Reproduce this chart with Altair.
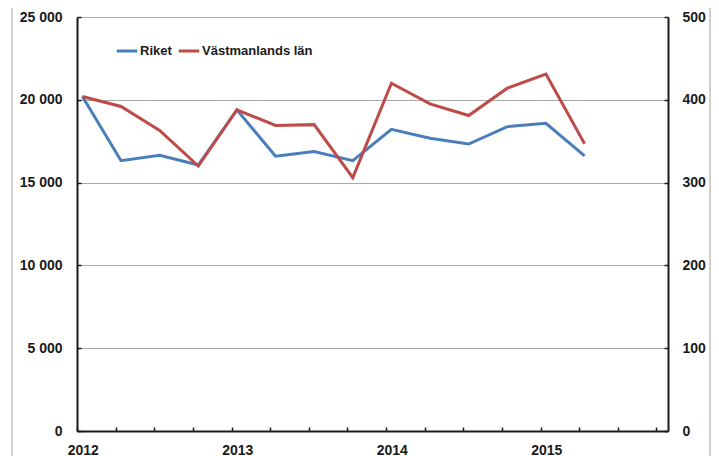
import altair as alt
import pandas as pd

quarters = ["2012K1", "2012K2", "2012K3", "2012K4", "2013K1", "2013K2", "2013K3",
            "2013K4", "2014K1", "2014K2", "2014K3", "2014K4", "2015K1", "2015K2"]
riket = [20200, 16320, 16650, 16060, 19390, 16590, 16870, 16320, 18220, 17680,
         17330, 18380, 18580, 16610]
vastmanland = [404, 392, 363, 320, 388, 369, 370, 306, 420, 395, 381, 414, 431, 347]
series_names = ["Riket", "Västmanlands län"]
colors = ["#4a7ebb", "#be4b48"]
year_labels = ["2012", "2013", "2014", "2015"]
left_ticks = [0, 5000, 10000, 15000, 20000, 25000]
right_ticks = [0, 100, 200, 300, 400, 500]

rows = []
for i, q in enumerate(quarters):
    rows.append({"t": i + 0.14, "q": q, "series": series_names[0], "value": riket[i]})
    rows.append({"t": i + 0.14, "q": q, "series": series_names[1], "value": vastmanland[i]})
df = pd.DataFrame(rows)

W, H = 591, 414
FONT = "Liberation Sans"
xscale = alt.Scale(domain=[0, 15.3], nice=False, zero=False)
lscale = alt.Scale(domain=[0, 25000], nice=False)
rscale = alt.Scale(domain=[0, 500], nice=False)
color = alt.Color("series:N", scale=alt.Scale(domain=series_names, range=colors),
                  legend=alt.Legend(orient="none", legendX=38, legendY=22,
                                    direction="horizontal", title=None,
                                    symbolType="stroke", symbolSize=420,
                                    symbolStrokeWidth=3, labelFontSize=13,
                                    labelFont=FONT, labelFontWeight="bold",
                                    labelColor="#1a1a1a", labelOffset=1,
                                    columnPadding=0, padding=0))

year_expr = "[" + ",".join("'%s'" % y for y in year_labels) + "][round(datum.value/4)]"
label_pos = [4 * k + 0.15 for k in range(len(year_labels))]

base = alt.Chart(df)

border = alt.Chart(pd.DataFrame({"a": [0]})).mark_rect(
    fillOpacity=0, stroke="#a0a0a0", strokeWidth=1
).encode(x=alt.value(-65), x2=alt.value(633), y=alt.value(-11), y2=alt.value(450))

blue = base.transform_filter(alt.datum.series == series_names[0]).mark_line(
    strokeWidth=3
).encode(
    x=alt.X("t:Q", scale=xscale, title=None,
            axis=alt.Axis(values=label_pos, labelExpr=year_expr, ticks=False,
                          domain=True, domainColor="#1a1a1a", domainWidth=2,
                          grid=False, labelPadding=12, labelFontSize=14,
                          labelFont=FONT, labelFontWeight="bold", labelColor="#1a1a1a")),
    y=alt.Y("value:Q", scale=lscale, title=None,
            axis=alt.Axis(values=left_ticks, orient="left",
                          labelExpr="replace(format(datum.value, ','), ',', ' ')",
                          grid=True, gridColor="#a8a8a8", gridWidth=1, ticks=False,
                          domain=True, domainColor="#1a1a1a", domainWidth=2,
                          labelPadding=15, labelFontSize=14, labelFont=FONT,
                          labelFontWeight="bold", labelColor="#1a1a1a")),
    color=color,
)

blue_ticks = base.transform_filter(alt.datum.series == series_names[0]).mark_line(
    opacity=0
).encode(
    x=alt.X("t:Q", scale=xscale, title=None,
            axis=alt.Axis(values=list(range(16)), orient="top", offset=-H, labels=False,
                          ticks=True, tickSize=4, tickColor="#1a1a1a", tickWidth=1.5,
                          domain=False, grid=False)),
    y=alt.Y("value:Q", scale=lscale, title=None,
            axis=alt.Axis(values=left_ticks, orient="right", offset=-W, labels=False,
                          ticks=True, tickSize=4, tickColor="#1a1a1a", tickWidth=1.5,
                          domain=False, grid=False)),
)

red = base.transform_filter(alt.datum.series == series_names[1]).mark_line(
    strokeWidth=3
).encode(
    x=alt.X("t:Q", scale=xscale, axis=None),
    y=alt.Y("value:Q", scale=rscale, title=None,
            axis=alt.Axis(values=right_ticks, orient="right", grid=False, ticks=False,
                          domain=True, domainColor="#1a1a1a", domainWidth=2,
                          labelPadding=14, labelFontSize=14, labelFont=FONT,
                          labelFontWeight="bold", labelColor="#1a1a1a")),
    color=color,
)

red_ticks = base.transform_filter(alt.datum.series == series_names[1]).mark_line(
    opacity=0
).encode(
    x=alt.X("t:Q", scale=xscale, axis=None),
    y=alt.Y("value:Q", scale=rscale, title=None,
            axis=alt.Axis(values=right_ticks, orient="left", offset=-W, labels=False,
                          ticks=True, tickSize=4, tickColor="#1a1a1a", tickWidth=1.5,
                          domain=False, grid=False)),
)

chart = alt.layer(border, blue, blue_ticks, red, red_ticks).resolve_scale(
    y="independent"
).resolve_axis(x="independent").properties(
    width=W, height=H,
    autosize=alt.AutoSizeParams(type="none"),
    padding={"left": 69, "top": 9, "right": 43, "bottom": 26},
    background="white",
).configure_view(stroke=None)

chart.save("out.html", embed_options={"renderer": "svg", "actions": False})
